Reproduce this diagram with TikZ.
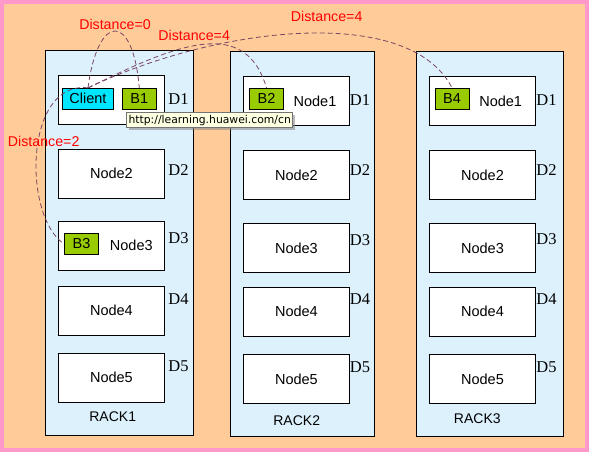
\documentclass[tikz,border=0pt]{standalone}
\usepackage{fontspec}
\setmainfont{Liberation Sans}
\newfontfamily\diskfont{Liberation Serif}
\newfontfamily\tipfont{DejaVu Sans}
\usetikzlibrary{shadows}

\definecolor{pinkframe}{RGB}{255,153,204}
\definecolor{orangebg}{RGB}{255,204,153}
\definecolor{rackblue}{RGB}{221,241,253}
\definecolor{clientcyan}{RGB}{0,230,255}
\definecolor{blockgreen}{RGB}{153,204,0}
\definecolor{linkpurple}{RGB}{120,70,100}
\definecolor{tipyellow}{RGB}{255,255,225}

\begin{document}
\begin{tikzpicture}
		[x=1pt, y=-1pt,
		racknode/.style={rectangle, draw=black, fill=rackblue, line width=0.9pt, minimum width=#1, minimum height=384.5pt, inner sep=0pt},
		datanode/.style={rectangle, draw=black, fill=white, line width=0.9pt, minimum width=106.2pt, minimum height=49pt, inner sep=0pt, font=\fontsize{14.5}{16}\selectfont},
		blocknode/.style={rectangle, draw=black, fill=blockgreen, line width=0.8pt, minimum width=34.2pt, minimum height=21pt, inner sep=0pt, font=\fontsize{14.5}{16}\selectfont},
		clientnode/.style={blocknode, fill=clientcyan, minimum width=51.4pt},
		plaintext/.style={inner sep=0pt, font=\fontsize{14.5}{16}\selectfont},
		disklabel/.style={inner sep=0pt, font={\diskfont\fontsize{16.5}{18}\selectfont}},
		racklabel/.style={inner sep=0pt, font=\fontsize{14}{16}\selectfont},
		distlabel/.style={inner sep=0pt, anchor=base, text=red, font=\fontsize{14.2}{16}\selectfont},
		link/.style={draw=linkpurple, dash pattern=on 5pt off 3pt, line width=0.8pt},
		tipnode/.style={rectangle, draw=black!55, fill=tipyellow, line width=0.7pt, minimum width=166pt, minimum height=15pt, inner sep=0pt, font={\tipfont\fontsize{10.8}{12}\selectfont}, drop shadow={shadow xshift=2pt, shadow yshift=-2pt, fill=black!45, opacity=0.6}},
		]
		\useasboundingbox (0,0) rectangle (589,452);
		
		%Background
		\fill[pinkframe] (0,0) rectangle (589,452);
		\fill[orangebg] (4,4) rectangle (584.5,447.5);
		
		%Racks
		\node[racknode=148.4pt](rack1) at (119.5,243) {};
		\node[racknode=143.8pt](rack2) at (302.4,243.85) {};
		\node[racknode=146.8pt](rack3) at (489.9,243.85) {};
		
		%Nodes
		\node[datanode](r1n1) at (111.4,99.8) {};
		\node[datanode](r1n2) at (111.4,173.7) {Node2};
		\node[datanode](r1n3) at (111.4,245.7) {};
		\node[datanode](r1n4) at (111.4,310.7) {Node4};
		\node[datanode](r1n5) at (111.4,377.8) {Node5};
		\node[datanode](r2n1) at (296.4,101.35) {};
		\node[datanode](r2n2) at (296.4,175) {Node2};
		\node[datanode](r2n3) at (296.4,248) {Node3};
		\node[datanode](r2n4) at (296.4,311.8) {Node4};
		\node[datanode](r2n5) at (296.4,379.3) {Node5};
		\node[datanode](r3n1) at (482.5,101.3) {};
		\node[datanode](r3n2) at (482.5,175) {Node2};
		\node[datanode](r3n3) at (482.5,248) {Node3};
		\node[datanode](r3n4) at (482.5,311.8) {Node4};
		\node[datanode](r3n5) at (482.5,379.3) {Node5};
		\node[plaintext](r1n3text) at (131.3,245.5) {Node3};
		\node[plaintext](r2n1text) at (315,101) {Node1};
		\node[plaintext](r3n1text) at (500.7,101) {Node1};
		
		%Blocks
		\node[clientnode](client) at (88,98.8) {Client};
		\node[blocknode](b1) at (139.3,98.8) {B1};
		\node[blocknode](b2) at (266.5,98.8) {B2};
		\node[blocknode](b3) at (81.5,244) {B3};
		\node[blocknode](b4) at (452,98.8) {B4};
		
		%Disks
		\node[disklabel](r1d1) at (178.5,99.3) {D1};
		\node[disklabel](r1d2) at (178.5,170) {D2};
		\node[disklabel](r1d3) at (178.5,238.5) {D3};
		\node[disklabel](r1d4) at (178.5,299) {D4};
		\node[disklabel](r1d5) at (178.5,366.5) {D5};
		\node[disklabel](r2d1) at (360,100) {D1};
		\node[disklabel](r2d2) at (360,170.3) {D2};
		\node[disklabel](r2d3) at (360,240) {D3};
		\node[disklabel](r2d4) at (360,299) {D4};
		\node[disklabel](r2d5) at (360,366.7) {D5};
		\node[disklabel](r3d1) at (546.5,100) {D1};
		\node[disklabel](r3d2) at (546.5,170.3) {D2};
		\node[disklabel](r3d3) at (546.5,239.5) {D3};
		\node[disklabel](r3d4) at (546.5,299) {D4};
		\node[disklabel](r3d5) at (546.5,367) {D5};
		
		\node[racklabel](rack1name) at (112.7,416.7) {RACK1};
		\node[racklabel](rack2name) at (296.7,420.7) {RACK2};
		\node[racklabel](rack3name) at (477.3,418.3) {RACK3};
		
		%Lines
		\draw[link](client.north) .. controls (98,12) and (133,12) .. (b1.north);
		\draw[link](client.north) .. controls (175,45) and (245,15) .. (b2.north);
		\draw[link](client.north) .. controls (220,25) and (410,5) .. (b4.north);
		\draw[link](client.north) .. controls (25,80) and (22,215) .. (b3.west);
		
		\node[distlabel](dist0) at (115,30) {Distance=0};
		\node[distlabel](dist4a) at (194.2,41) {Distance=4};
		\node[distlabel](dist4b) at (326.7,21.7) {Distance=4};
		\node[distlabel](dist2) at (43.7,146.7) {Distance=2};
		
		%Tooltip
		\node[tipnode](tip) at (209.7,120.2) {http://learning.huawei.com/cn};
	\end{tikzpicture}
\end{document}
